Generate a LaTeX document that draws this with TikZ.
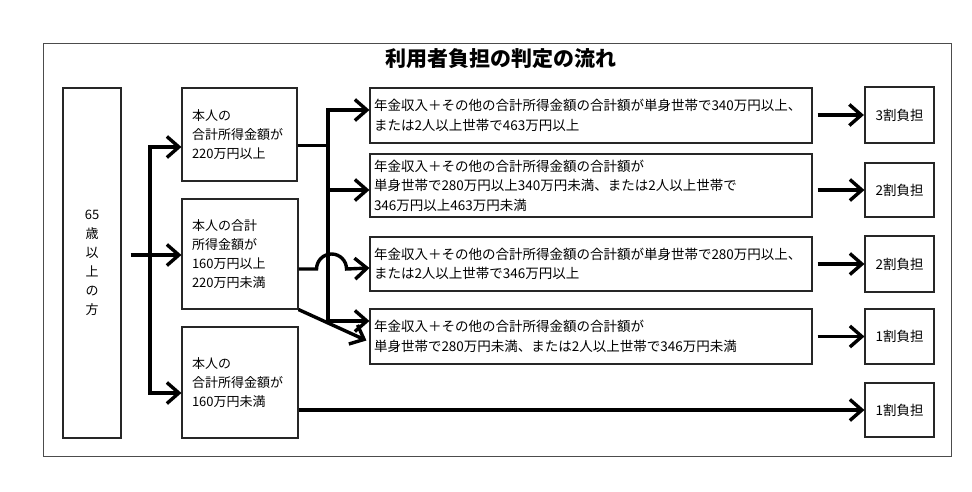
\documentclass[tikz,border=0pt]{standalone}
\usepackage{fontspec}
\setmainfont{Noto Sans CJK JP}
\usetikzlibrary{arrows.meta}
\begin{document}
\begin{tikzpicture}[x=1pt,y=-1pt,
  box/.style={draw=black!85,line width=1.1pt,rectangle,inner sep=0pt},
  lbox/.style={box,align=left,inner xsep=10pt,text width=#1,font=\fontsize{13}{19}\selectfont},
  cbox/.style={box,align=left,inner xsep=4pt,text width=434pt,minimum width=442pt,font=\fontsize{13.5}{19.5}\selectfont},
  rbox/.style={box,minimum width=69pt,font=\fontsize{13.5}{19}\selectfont},
  conn/.style={line width=3.4pt,line join=miter,-{Straight Barb[length=12pt,width=21pt,line width=3.4pt]}},
  wire/.style={line width=3.4pt}]
\useasboundingbox (0,0) rectangle (972,491);
\fill[white] (0,0) rectangle (972,491);
% outer frame
\draw[black!70,line width=1pt] (43,43) rectangle (951,456);
\node[font=\fontsize{21}{24}\selectfont\bfseries] (title) at (501,59) {利用者負担の判定の流れ};
% left column
\node[box,minimum width=58pt,minimum height=350pt,align=center,font=\fontsize{13}{19}\selectfont] (p65) at (92,263) {65\\歳\\以\\上\\の\\方};
\node[lbox=95pt,minimum height=93pt] (A) at (239.5,134.5) {本人の\\合計所得金額が\\220万円以上};
\node[lbox=96pt,minimum height=110pt] (B) at (240,254) {本人の合計\\所得金額が\\160万円以上\\220万円未満};
\node[lbox=96pt,minimum height=111pt] (C) at (240,382.5) {本人の\\合計所得金額が\\160万円未満};
% condition boxes
\node[cbox,minimum height=55pt] (c1) at (591,115.5) {年金収入＋その他の合計所得金額の合計額が単身世帯で340万円以上、\\または2人以上世帯で463万円以上};
\node[cbox,minimum height=63pt] (c2) at (591,185.5) {年金収入＋その他の合計所得金額の合計額が\\単身世帯で280万円以上340万円未満、または2人以上世帯で\\346万円以上463万円未満};
\node[cbox,minimum height=54pt] (c3) at (591,264) {年金収入＋その他の合計所得金額の合計額が単身世帯で280万円以上、\\または2人以上世帯で346万円以上};
\node[cbox,minimum height=55pt] (c4) at (591,336.5) {年金収入＋その他の合計所得金額の合計額が\\単身世帯で280万円未満、または2人以上世帯で346万円未満};
% result boxes
\node[rbox,line width=2.2pt,minimum height=56pt] (r1) at (899.5,115) {3割負担};
\node[rbox,minimum height=54pt] (r2) at (899.5,190) {2割負担};
\node[rbox,minimum height=56pt] (r3) at (899.5,264) {2割負担};
\node[rbox,minimum height=55pt] (r4) at (899.5,336.5) {1割負担};
\node[rbox,minimum height=54pt] (r5) at (899.5,410) {1割負担};
% left spine
\coordinate (ls1) at (150,147);
\coordinate (ls2) at (150,393);
\draw[conn] (ls2) -- (ls1) -- (ls1 -| A.west);
\draw[conn] (ls1) -- (ls2) -- (ls2 -| C.west);
\draw[conn] ([xshift=9pt,yshift=-1pt]p65.east |- B.west) -- ([yshift=-1pt]B.west);
% right spine
\coordinate (rs1) at (328,110);
\coordinate (rs2) at (328,321);
\draw[wire] ([yshift=-11pt]A.east) -- ([yshift=-11pt]A.east -| rs1);
\draw[conn] (rs2) -- (rs1) -- (rs1 -| c1.west);
\draw[conn] (rs1) -- (rs2) -- (rs2 -| c4.west);
\draw[conn] ([yshift=-4.5pt]rs1 |- c2.west) -- ([yshift=-4.5pt]c2.west);
\draw[conn] ([yshift=-15pt]B.east) -- ++(18,0) arc[start angle=180,end angle=0,radius=15pt] -- ([yshift=-4pt]c3.west);
\draw[conn] (B.south east) -- ([xshift=-3pt,yshift=-4pt]c4.west);
% to results
\draw[conn] ([xshift=5pt]c1.east |- r1.west) -- (r1.west);
\draw[conn] ([xshift=5pt]c2.east |- r2.west) -- (r2.west);
\draw[conn] ([xshift=5pt]c3.east |- r3.west) -- (r3.west);
\draw[conn] ([xshift=5pt]c4.east |- r4.west) -- (r4.west);
\draw[conn] (C.east |- r5.west) -- (r5.west);
\end{tikzpicture}
\end{document}
